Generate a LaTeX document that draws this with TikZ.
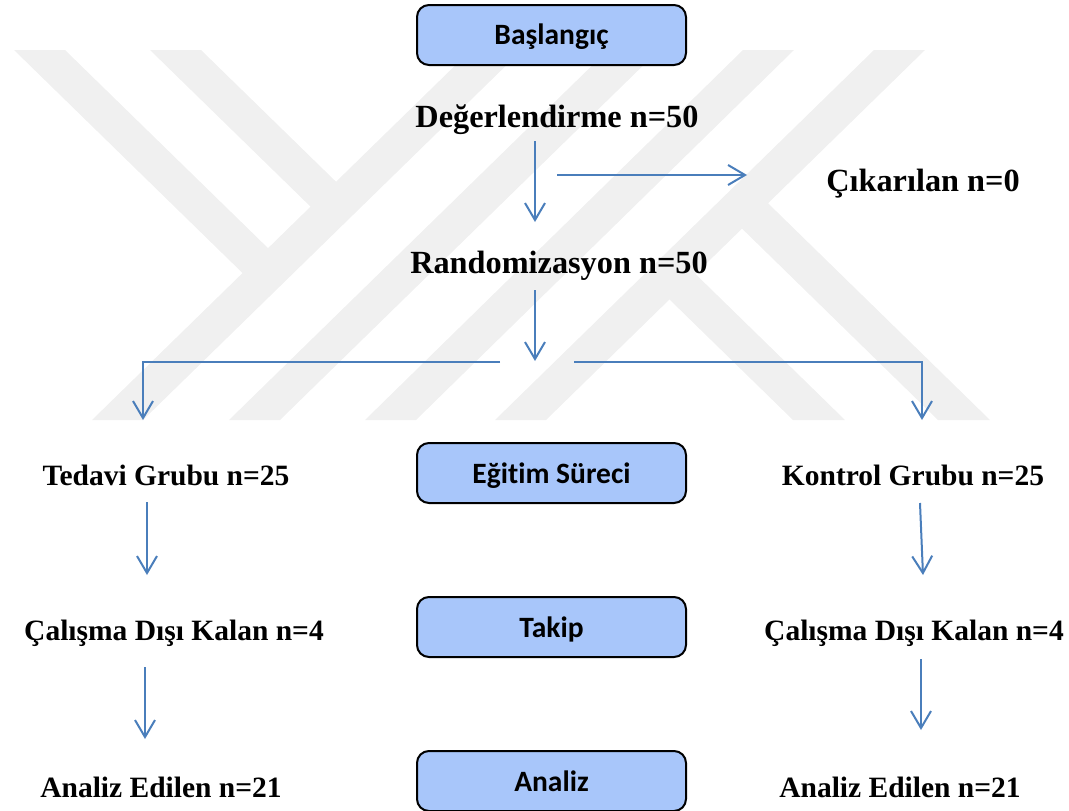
\documentclass[tikz,border=0pt]{standalone}
\usepackage{fontspec}
\setmainfont{Liberation Serif}
\newfontfamily\boxfont[Ligatures=NoCommon]{Carlito}
\usetikzlibrary{arrows.meta}
\definecolor{stagefill}{RGB}{168,198,250}
\definecolor{flowblue}{RGB}{74,126,187}
\definecolor{wmark}{RGB}{240,240,240}
\tikzstyle{stage}=[draw=black, line width=2pt, rounded corners=12pt, fill=stagefill, minimum width=269pt, minimum height=60pt, inner sep=0pt, text height=20pt, text depth=0pt, font=\boxfont\bfseries\fontsize{29.5}{32}\selectfont]
\tikzstyle{count}=[inner sep=0pt, anchor=base, font=\bfseries\fontsize{29.5}{34}\selectfont]
\tikzstyle{bigcount}=[count, font=\bfseries\fontsize{32.3}{36}\selectfont]
\tikzstyle{flow}=[draw, line width=2pt, -{Straight Barb[length=17pt,width=20pt]}, flowblue]
\tikzstyle{wm}=[fill=wmark]
\begin{document}
\begin{tikzpicture}[x=1pt, y=-1pt]
	\useasboundingbox (0,0) rectangle (1069,811);

	% watermark
	\foreach \bot/\top in {92/471, 229/608, 365/743, 495/874}{
		\fill[wm] (\bot,420) -- (\bot+51,420) -- (\top+51,50) -- (\top,50) -- cycle;
	}
	\fill[wm] (14,50) -- (65,50) -- (280.8,260.6) -- (255.3,285.5) -- cycle;
	\fill[wm] (150,50) -- (201,50) -- (348.8,194.2) -- (323.3,219.1) -- cycle;
	\fill[wm] (938,420) -- (990,420) -- (755.3,190.8) -- (729.3,216.2) -- cycle;
	\fill[wm] (793,420) -- (845,420) -- (682.8,261.6) -- (656.7,287) -- cycle;

	\node[stage] (bas) at (551.5,35) {Başlangıç};
	\node[bigcount] (deg) at (557,127) {Değerlendirme n=50};
	\node[bigcount] (cik) at (923,191) {Çıkarılan n=0};
	\node[bigcount] (ran) at (559,273) {Randomizasyon n=50};

	\node[count] (ted) at (166,485) {Tedavi Grubu n=25};
	\node[stage] (egt) at (551.5,473) {Eğitim Süreci};
	\node[count] (kon) at (913,485) {Kontrol Grubu n=25};

	\node[count] (cd_1) at (174,640) {Çalışma Dışı Kalan n=4};
	\node[stage] (tak) at (551.5,627) {Takip};
	\node[count] (cd_2) at (914,640) {Çalışma Dışı Kalan n=4};

	\node[count] (an_1) at (161,797) {Analiz Edilen n=21};
	\node[stage] (anl) at (551.5,781) {Analiz};
	\node[count] (an_2) at (900,797) {Analiz Edilen n=21};

	% free arrow ends
	\coordinate (deg_o) at (535,141);
	\coordinate (ran_i) at (535,222);
	\coordinate (cik_s) at (557,175);
	\coordinate (cik_i) at (747,175);
	\coordinate (ran_o) at (535,290);
	\coordinate (ran_t) at (535,361);
	\coordinate (br_l) at (500,362);
	\coordinate (br_r) at (574,362);
	\coordinate (ted_i) at (143,420);
	\coordinate (kon_i) at (922,420);
	\coordinate (ted_o) at (147,502);
	\coordinate (cd_1i) at (147,575);
	\coordinate (cd_1o) at (145,667);
	\coordinate (an_1i) at (145,739);
	\coordinate (kon_o) at (920,503);
	\coordinate (cd_2i) at (923,575);
	\coordinate (cd_2o) at (921,659);
	\coordinate (an_2i) at (921,730);

	\foreach \source/\dest in {deg_o/ran_i, cik_s/cik_i, ran_o/ran_t, ted_o/cd_1i, cd_1o/an_1i, kon_o/cd_2i, cd_2o/an_2i}{
		\draw[flow] (\source) -- (\dest);
	}

	\draw[flow] (br_l) -| (ted_i);
	\draw[flow] (br_r) -| (kon_i);
\end{tikzpicture}
\end{document}
